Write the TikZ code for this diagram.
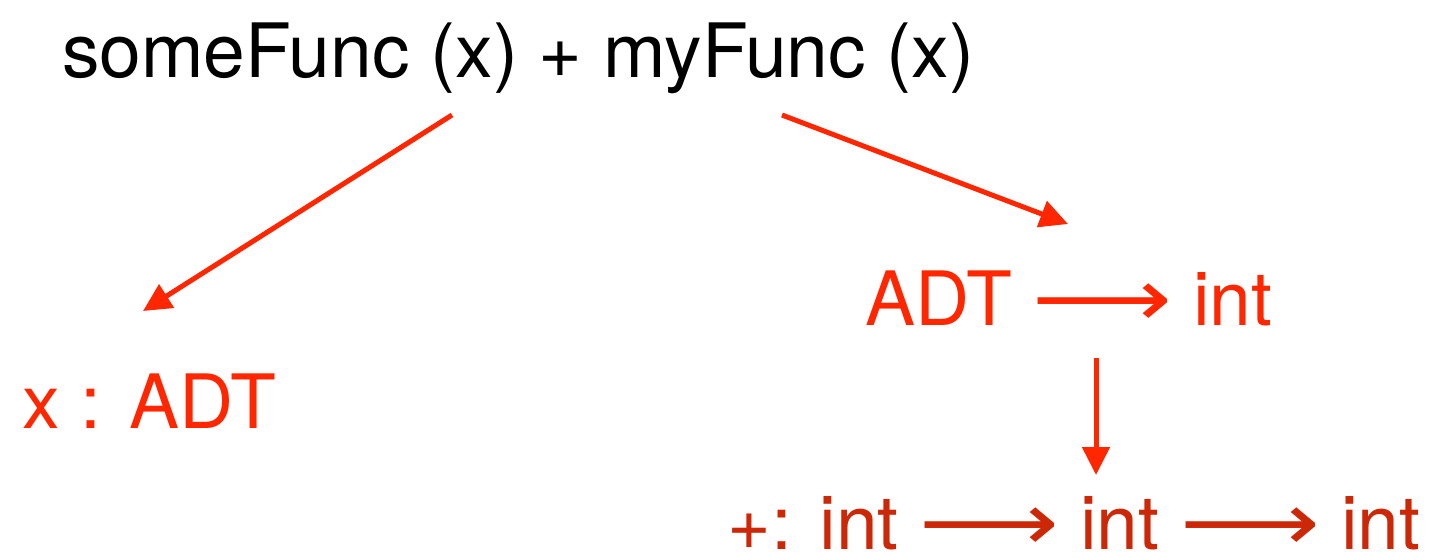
\documentclass[tikz,border=0pt]{standalone}
\usepackage{graphicx}
\usepackage{fontspec}
\setmainfont{TeX Gyre Heros}
\newfontfamily\arrowfont{DejaVu Sans}
\usetikzlibrary{arrows.meta}
\definecolor{arrred}{RGB}{255,38,0}
\definecolor{txtred}{RGB}{255,38,0}
\definecolor{darkred}{RGB}{204,40,8}
\newcommand{\larr}{\raisebox{-1pt}{\scalebox{1.3}[1.08]{\arrowfont\symbol{"27F6}}}}
\tikzset{
  lbl/.style={inner sep=0pt, anchor=base west, font=\fontsize{75}{80}\selectfont},
  conn/.style={draw=arrred, line width=5pt, -{Triangle[length=28pt,width=27pt]}}
}
\begin{document}
\begin{tikzpicture}[x=1pt,y=-1pt]
\useasboundingbox (0,0) rectangle (1429,559);
\node[lbl, text=black] (expr) at (62,78) {someFunc (x) + myFunc (x)};
\node[lbl, text=txtred] (xadt) at (22,428) {x : ADT};
\node[lbl, text=txtred] (fty) at (865,325) {ADT \larr{} int};
\node[lbl, text=darkred] (plus) at (727,549) {+: int \larr{} int \larr{} int};
\coordinate (l0) at (452,115);
\coordinate (l1) at (143,311);
\coordinate (r0) at (782,115);
\coordinate (r1) at (1068,224);
\coordinate (d0) at (1096,358);
\coordinate (d1) at (1096,475);
\draw[conn] (l0) -- (l1);
\draw[conn] (r0) -- (r1);
\draw[conn] (d0) -- (d1);
\end{tikzpicture}
\end{document}
